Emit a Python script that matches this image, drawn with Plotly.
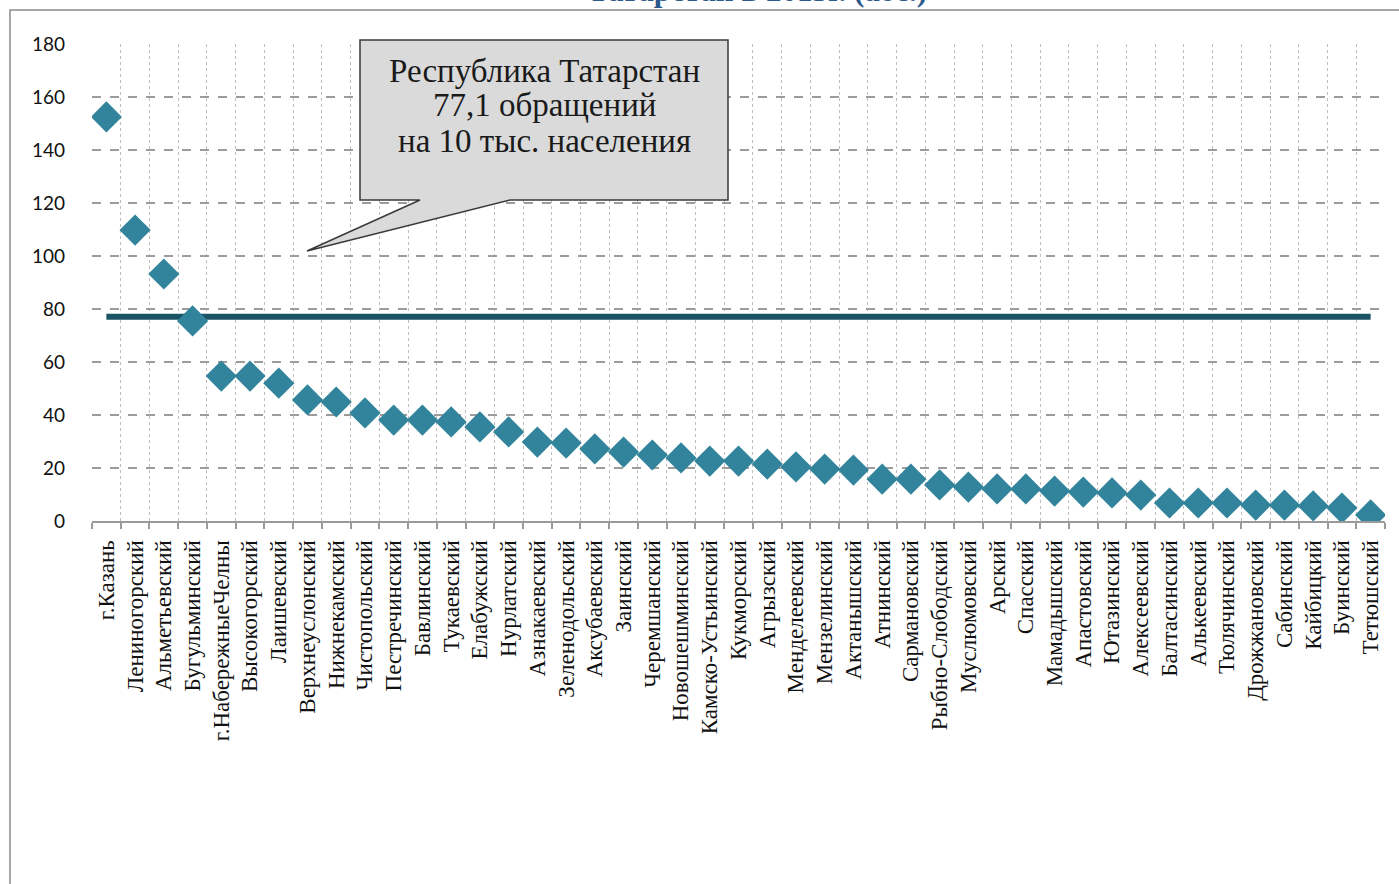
import plotly.graph_objects as go

districts = [
    "г.Казань", "Лениногорский", "Альметьевский", "Бугульминский", "г.НабережныеЧелны",
    "Высокогорский", "Лаишевский", "Верхнеуслонский", "Нижнекамский", "Чистопольский",
    "Пестречинский", "Бавлинский", "Тукаевский", "Елабужский", "Нурлатский",
    "Азнакаевский", "Зеленодольский", "Аксубаевский", "Заинский", "Черемшанский",
    "Новошешминский", "Камско-Устьинский", "Кукморский", "Агрызский", "Менделеевский",
    "Мензелинский", "Актанышский", "Атнинский", "Сармановский", "Рыбно-Слободский",
    "Муслюмовский", "Арский", "Спасский", "Мамадышский", "Апастовский",
    "Ютазинский", "Алексеевский", "Балтасинский", "Алькеевский", "Тюлячинский",
    "Дрожжановский", "Сабинский", "Кайбицкий", "Буинский", "Тетюшский",
]
values = [
    152.5, 109.8, 93.2, 75.5, 54.7,
    54.7, 52.0, 45.7, 44.9, 40.8,
    38.1, 38.1, 37.4, 35.5, 33.6,
    29.8, 29.4, 27.2, 26.0, 24.9,
    23.8, 22.6, 22.6, 21.5, 20.4,
    19.6, 19.2, 15.8, 15.8, 13.6,
    12.8, 12.1, 12.1, 11.3, 10.9,
    10.6, 9.8, 6.8, 6.8, 6.8,
    6.0, 6.0, 5.7, 4.9, 2.3,
]
republic_avg = 77.1
y_ticks = [0, 20, 40, 60, 80, 100, 120, 140, 160, 180]
callout_lines = ["Республика Татарстан", "77,1 обращений", "на 10 тыс. населения"]
title_text = "Татарстан в 2013г. (абс.)"

W, H = 1399, 884
L, R, T, B = 92, 14, 44, 363
PW, PH = W - L - R, H - T - B


def px(x):
    return (x - L) / PW


def py(y):
    return (H - B - y) / PH


fig = go.Figure()
fig.add_trace(go.Scatter(
    x=districts, y=[republic_avg] * len(districts), mode="lines",
    line=dict(color="#1a5464", width=6), hoverinfo="skip", showlegend=False,
))
fig.add_trace(go.Scatter(
    x=districts, y=values, mode="markers",
    marker=dict(symbol="diamond", size=24, color="#31849b", line=dict(width=0)),
    showlegend=False,
))

# callout box with pointer (paper coordinates)
pts = [(360, 40), (728, 40), (728, 200), (510, 200), (307, 251), (420, 200), (360, 200)]
path = "M " + " L ".join(f"{px(a):.5f},{py(b):.5f}" for a, b in pts) + " Z"
shapes = [
    dict(type="path", xref="paper", yref="paper", path=path,
         fillcolor="#dadada", line=dict(color="#3a3a3a", width=1.5), layer="above"),
    dict(type="rect", xref="paper", yref="paper",
         x0=px(10), x1=px(1430), y0=py(920), y1=py(10),
         line=dict(color="#8a8a8a", width=1.5), fillcolor="rgba(0,0,0,0)", layer="below"),
]

annotations = []
for line_text, yy in zip(callout_lines, [71, 105, 141]):
    annotations.append(dict(
        xref="paper", yref="paper", x=px(544), y=py(yy), xanchor="center", yanchor="middle",
        text=line_text, showarrow=False,
        font=dict(family="Liberation Serif", size=33, color="#1a1a1a")))
annotations.append(dict(
    xref="paper", yref="paper", x=px(757), y=py(10), xanchor="center", yanchor="bottom",
    text="<b>" + title_text + "</b>", showarrow=False,
    font=dict(family="Liberation Serif", size=31, color="#2c5a8c")))

fig.update_layout(
    width=W, height=H,
    margin=dict(l=L, r=R, t=T, b=B, autoexpand=False),
    paper_bgcolor="white", plot_bgcolor="white",
    shapes=shapes, annotations=annotations,
    xaxis=dict(
        type="category", range=[-0.5, len(districts) - 0.5],
        tickmode="array", tickvals=districts, ticktext=districts,
        tickson="boundaries", ticks="outside", ticklen=6, tickcolor="#9a9a9a", tickwidth=1.5,
        showline=True, linecolor="#9a9a9a", linewidth=2,
        showgrid=True, gridcolor="#bdbdbd", griddash="dot", gridwidth=1,
        tickangle=-90, ticklabelstandoff=8,
        tickfont=dict(family="Liberation Serif", size=23, color="#111111"),
    ),
    yaxis=dict(
        range=[0, 180], tickvals=y_ticks, ticks="", showline=False,
        showgrid=True, gridcolor="#9c9c9c", griddash="dash", gridwidth=1.5,
        zeroline=False, ticklabelstandoff=26,
        tickfont=dict(family="Lato", size=19, color="#111111"),
    ),
)

fig.write_html("out.html", config={"displayModeBar": False},
               post_script="document.body.style.margin='0px';")
